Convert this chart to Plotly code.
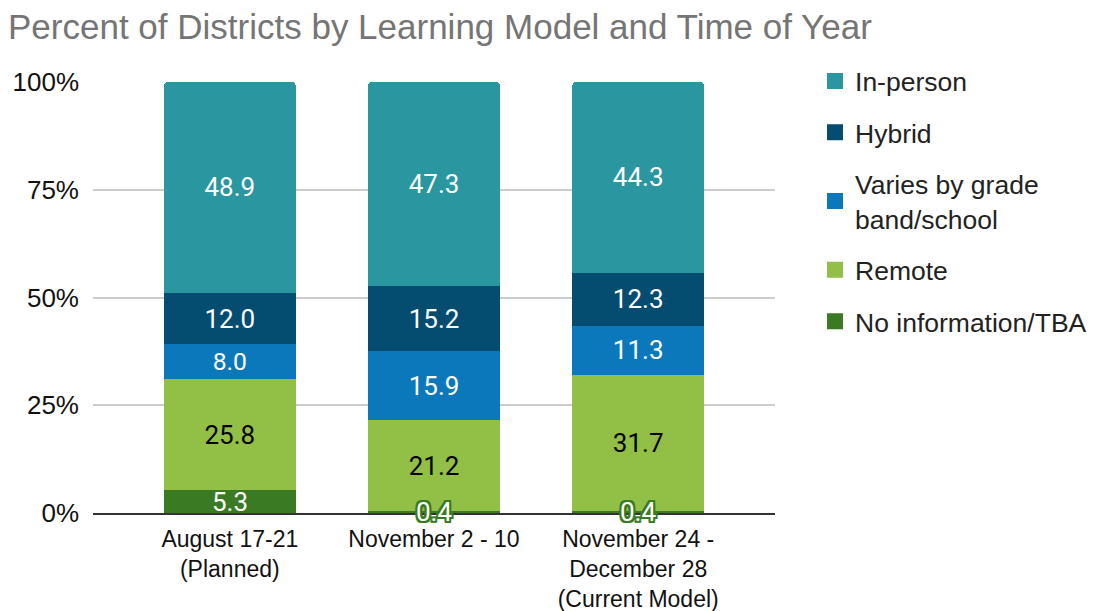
import plotly.graph_objs as go

# Datos del grafico
periodos = ['August 17-21<br>(Planned)', 'November 2 - 10',
            'November 24 -<br>December 28<br>(Current Model)']
no_info = [5.3, 0.4, 0.4]
remoto = [25.8, 21.2, 31.7]
varia = [8.0, 15.9, 11.3]
hibrido = [12.0, 15.2, 12.3]
presencial = [48.9, 47.3, 44.3]
ticks_y = [0, 25, 50, 75, 100]

# Trazos de abajo hacia arriba: (nombre, valores, color barra, color texto)
series = [
    ('No information/TBA', no_info, '#3a7a22', 'white'),
    ('Remote', remoto, '#92bf45', 'black'),
    ('Varies by grade<br>band/school', varia, '#0a78bb', 'white'),
    ('Hybrid', hibrido, '#044c70', 'white'),
    ('In-person', presencial, '#2a96a0', 'white'),
]

fig = go.Figure()

for i, (nombre, valores, color, color_txt) in enumerate(series):
    # las etiquetas de "No information" van como anotaciones (con contorno)
    textos = ['' if i == 0 else f'{v:.1f}' for v in valores]
    fig.add_trace(go.Bar(x=periodos, y=valores, name=nombre,
                         marker=dict(color=color, line=dict(width=0)),
                         text=textos, textposition='inside',
                         insidetextanchor='middle', textangle=0,
                         textfont=dict(family='Roboto', size=26, color=color_txt),
                         showlegend=False))
    # trazo "fantasma" solo para tener cuadros grandes en la leyenda
    fig.add_trace(go.Scatter(x=[None], y=[None], mode='markers', name=nombre,
                             marker=dict(symbol='square', size=26, color=color),
                             legendrank=len(series) - i, legendgroup=nombre))

# Etiquetas con contorno verde para la serie "No information/TBA"
verde = '#3a7a22'
contorno = ', '.join(f'{dx}px {dy}px 0 {verde}' for dx in (-2, 0, 2) for dy in (-2, 0, 2))
for x, v in zip(periodos, no_info):
    fig.add_annotation(x=x, y=v / 2, text=f'{v:.1f}', showarrow=False,
                       font=dict(family='Roboto', size=26, color='white',
                                 shadow=contorno))

fig.update_layout(
    barmode='stack', bargap=0.355, barcornerradius=4,
    width=1095, height=611,
    margin=dict(l=85, r=328, t=74, b=106),
    paper_bgcolor='white', plot_bgcolor='white',
    font=dict(family='Liberation Sans, Arial', size=23, color='#222222'),
    title=dict(text='Percent of Districts by Learning Model and Time of Year',
               x=0.0, xanchor='left', y=0.969, yanchor='middle',
               font=dict(size=35, color='#757575')),
    legend=dict(xref='container', yref='container', x=0.737, xanchor='left',
                y=0.9195, yanchor='top',
                traceorder='grouped', tracegroupgap=14, itemsizing='trace',
                font=dict(size=26.5, color='#222222')),
    showlegend=True,
)

fig.update_xaxes(range=[-0.67, 2.67], showgrid=False, showline=True,
                 linecolor='#333333', linewidth=1.5, ticks='',
                 ticklabelstandoff=5, automargin=False,
                 tickfont=dict(size=23, color='#111111'))
fig.update_yaxes(range=[0, 100], tickvals=ticks_y,
                 ticktext=[f'{t}%' for t in ticks_y],
                 showgrid=True, gridcolor='#cccccc', gridwidth=1.5,
                 zeroline=False, ticks='', ticklabelstandoff=13, automargin=False,
                 tickfont=dict(size=26, color='#111111'))

fig.write_html("out.html")
